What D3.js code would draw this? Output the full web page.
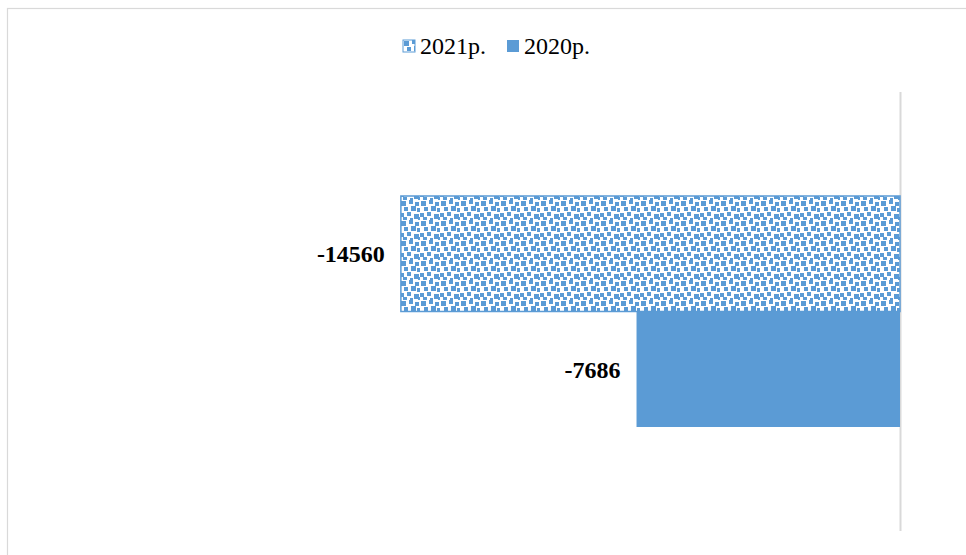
<!DOCTYPE html>
<html>
<head>
<meta charset="utf-8">
<script src="https://cdn.jsdelivr.net/npm/d3@7"></script>
<style>
  html, body { margin: 0; padding: 0; background: #fff; }
  svg { display: block; }
</style>
</head>
<body>
<svg id="chart" width="966" height="555"></svg>
<script>
// Series (one category, two years)
const seriesNames = ["2021р.", "2020р."];
const seriesValues = [-14560, -7686];
const seriesKeys = ["y2021", "y2020"];

const svg = d3.select("#chart");
const W = 966, H = 555;
const blue = "#5B9BD5";

// Confetti pattern for the 2021 bar
const defs = svg.append("defs");
const pat = defs.append("pattern")
  .attr("id", "confetti")
  .attr("patternUnits", "userSpaceOnUse")
  .attr("width", 20).attr("height", 20);
pat.append("rect").attr("width", 20).attr("height", 20).attr("fill", "#fff");
const dots = [
  [1,1,5],[9,0,4],[15,2,4],
  [4,7,4],[11,6,5],[17,8,4],
  [0,13,4],[7,12,4],[14,14,5],
  [3,17,4],[10,18,3],[18,17,3]
];
pat.selectAll("rect.d").data(dots).enter().append("rect")
  .attr("class", "d")
  .attr("x", d => d[0]).attr("y", d => d[1])
  .attr("width", d => d[2]).attr("height", d => d[2])
  .attr("fill", blue);

// Chart frame
svg.append("rect")
  .attr("x", 7.5).attr("y", 8.5)
  .attr("width", W).attr("height", H)
  .attr("fill", "none").attr("stroke", "#d9d9d9").attr("stroke-width", 1.2);

// Scales
const x = d3.scaleLinear().domain([-25000, 0]).range([43, 900]);
const y = d3.scaleBand().domain(seriesKeys).range([196, 427]).paddingInner(0);

// Value axis line at zero
svg.append("line")
  .attr("x1", x(0) + 0.5).attr("x2", x(0) + 0.5)
  .attr("y1", 92).attr("y2", 531)
  .attr("stroke", "#d9d9d9").attr("stroke-width", 2);

const fills = ["url(#confetti)", blue];
const data = seriesKeys.map((k, i) => ({ key: k, name: seriesNames[i], value: seriesValues[i], fill: fills[i] }));

// Bars
svg.selectAll("rect.bar").data(data).enter().append("rect")
  .attr("class", "bar")
  .attr("x", d => x(d.value))
  .attr("y", d => y(d.key))
  .attr("width", d => x(0) - x(d.value))
  .attr("height", y.bandwidth())
  .attr("fill", d => d.fill)
  .attr("stroke", (d, i) => i === 0 ? blue : "none")
  .attr("stroke-width", 1.5);

// Value labels
svg.selectAll("text.lbl").data(data).enter().append("text")
  .attr("class", "lbl")
  .attr("x", d => x(d.value) - 16)
  .attr("y", d => y(d.key) + y.bandwidth() / 2)
  .attr("dy", "0.35em")
  .attr("text-anchor", "end")
  .attr("font-family", "'Liberation Serif', 'Times New Roman', serif")
  .attr("font-weight", "bold")
  .attr("font-size", 24)
  .attr("fill", "#000")
  .text(d => d.value);

// Legend
const legendX = [403, 507];
const leg = svg.selectAll("g.leg").data(data).enter().append("g")
  .attr("class", "leg")
  .attr("transform", (d, i) => `translate(${legendX[i]},40)`);
leg.append("rect")
  .attr("width", 12).attr("height", 12)
  .attr("fill", d => d.fill)
  .attr("stroke", (d, i) => i === 0 ? blue : "none");
leg.append("text")
  .attr("x", 17).attr("y", 6)
  .attr("dy", "0.35em")
  .attr("font-family", "'Liberation Serif', 'Times New Roman', serif")
  .attr("font-size", 24)
  .attr("fill", "#000")
  .text(d => d.name);
</script>
</body>
</html>
